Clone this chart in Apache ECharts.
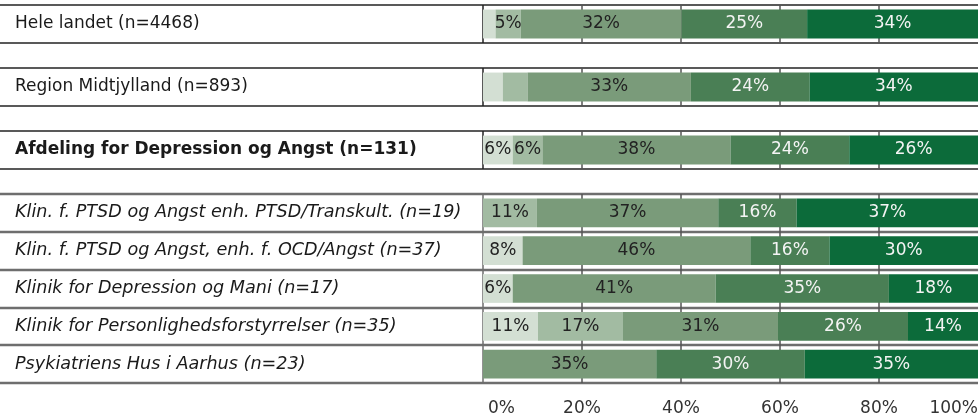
<!DOCTYPE html>
<html>
<head>
<meta charset="utf-8">
<script src="https://cdn.jsdelivr.net/npm/echarts@6/dist/echarts.min.js"></script>
<style>
html, body { margin: 0; padding: 0; background: #fff; }
#chart { width: 978px; height: 416px; }
</style>
</head>
<body>
<div id="chart"></div>
<script>
const categories = [
  'Hele landet (n=4468)',
  'Region Midtjylland (n=893)',
  'Afdeling for Depression og Angst (n=131)',
  'Klin. f. PTSD og Angst enh. PTSD/Transkult. (n=19)',
  'Klin. f. PTSD og Angst, enh. f. OCD/Angst (n=37)',
  'Klinik for Depression og Mani (n=17)',
  'Klinik for Personlighedsforstyrrelser (n=35)',
  'Psykiatriens Hus i Aarhus (n=23)'
];
// five answer levels, lightest to darkest
const seg1 = [2.5, 4, 6, 0, 8, 6, 11, 0];
const seg2 = [5, 5, 6, 11, 0, 0, 17, 0];
const seg3 = [32, 33, 38, 37, 46, 41, 31, 35];
const seg4 = [25, 24, 24, 16, 16, 35, 26, 30];
const seg5 = [34, 34, 26, 37, 30, 18, 14, 35];
// [row, segment] pairs without a data label
const unlabeled = [[0, 0], [1, 0], [1, 1]];
const tickValues = [0, 20, 40, 60, 80, 100];

const FONT = 'DejaVu Sans';
const segments = [seg1, seg2, seg3, seg4, seg5];
const segColors = ['#d3dfd3', '#a2bba2', '#7a9b7a', '#4a7f55', '#0c6b3a'];
const segText = ['#222', '#222', '#222', '#f4f4f4', '#f4f4f4'];
const rowSum = categories.map((c, i) => segments.reduce((s, a) => s + a[i], 0));

// row groups: national, region, department, clinics
const groups = [
  { first: 0, count: 1, top: 5, height: 38, line: '#222', lineW: 1.6, style: {} },
  { first: 1, count: 1, top: 68, height: 38, line: '#222', lineW: 1.6, style: {} },
  { first: 2, count: 1, top: 131, height: 38, line: '#222', lineW: 1.6, style: { fontWeight: 'bold' } },
  { first: 3, count: 5, top: 194, height: 189, line: '#6e6e6e', lineW: 2.4, style: { fontStyle: 'italic', fontSize: 17.6 } }
];

// x runs -100..100 so zero sits at the bar start; the 0 line is the frame,
// 20..80 show as short ticks between bars, the rest stay hidden
function tickColors(frame) {
  const out = [];
  for (let v = -100; v <= 100; v += 20) {
    if (v === 0) out.push(frame);
    else out.push(v > 0 && v < 100 ? '#555' : 'rgba(0,0,0,0)');
  }
  return out;
}

const chart = echarts.init(document.getElementById('chart'));

const grid = groups.map(g => ({
  left: -12, right: 0, top: g.top, height: g.height, outerBoundsMode: 'none'
}));

const xAxis = groups.map((g, gi) => ({
  gridIndex: gi,
  type: 'value',
  min: -100,
  max: 100,
  interval: 20,
  axisLine: { show: false },
  axisTick: { show: false },
  splitLine: { show: true, lineStyle: { color: tickColors(g.line), width: 1.5 } },
  axisLabel: gi === groups.length - 1 ? {
    show: true,
    margin: 17,
    fontSize: 17,
    fontFamily: FONT,
    color: '#333',
    alignMaxLabel: 'right',
    formatter: v => {
      if (tickValues.indexOf(v) < 0) return '';
      return v === 0 ? '{z|0%}' : v + '%';
    },
    rich: { z: { padding: [0, 0, 0, 37], fontSize: 17, fontFamily: FONT, color: '#333' } }
  } : { show: false }
}));

const yAxis = groups.map((g, gi) => ({
  gridIndex: gi,
  type: 'category',
  inverse: true,
  data: categories.slice(g.first, g.first + g.count).map(c => ({ value: c, textStyle: g.style })),
  axisLine: { show: false },
  axisTick: { show: false },
  splitLine: { show: true, lineStyle: { color: g.line, width: g.lineW } },
  axisLabel: { inside: true, align: 'left', margin: 27, fontSize: 17, fontFamily: FONT, color: '#1a1a1a' }
}));

const series = [];
groups.forEach((g, gi) => {
  const rows = [];
  for (let r = g.first; r < g.first + g.count; r++) rows.push(r);
  segments.forEach((seg, k) => {
    series.push({
      type: 'bar',
      xAxisIndex: gi,
      yAxisIndex: gi,
      stack: 'g' + gi,
      barWidth: '76%',
      silent: true,
      data: rows.map(r => seg[r] / rowSum[r] * 100),
      itemStyle: { color: segColors[k] },
      label: {
        show: true,
        position: 'inside',
        fontSize: 17,
        fontFamily: FONT,
        color: segText[k],
        formatter: p => {
          const r = g.first + p.dataIndex;
          const hidden = unlabeled.some(u => u[0] === r && u[1] === k);
          return (seg[r] === 0 || hidden) ? '' : seg[r] + '%';
        }
      }
    });
  });
});

chart.setOption({
  animation: false,
  backgroundColor: '#fff',
  textStyle: { fontFamily: FONT },
  grid, xAxis, yAxis, series
});
</script>
</body>
</html>
